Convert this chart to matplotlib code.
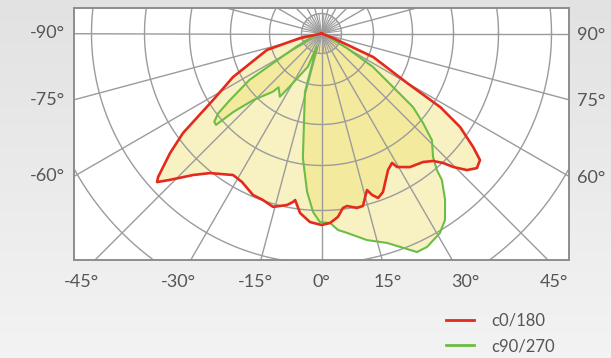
import numpy as np
import matplotlib
matplotlib.use("Agg")
import matplotlib.pyplot as plt

# ---------------- data (gamma angle in degrees, intensity in chart radius units) ----------
c0_angles = [-90, -78, -73.2, -63.8, -58.5, -54.3, -51.7, -48.7, -47.9, -46, -42.2, -38.6,
             -32, -28.2, -23, -19.4, -15.6, -11.4, -9.6, -9, -6.8, -3.5, 0, 2.6, 5.1, 7,
             8.4, 11.5, 13.5, 16.2, 17.4, 19, 21.2, 26, 28.6, 29.5, 33.5, 38.3, 41.2, 43.2,
             44.6, 46.8, 49.1, 51.4, 53.2, 56, 58.2, 59.9, 65.5, 68.6, 90]
c0_values = [0, 22, 57, 98.6, 127, 170.5, 193, 217.5, 221.6, 210.7, 191, 178.6,
             166.9, 168.4, 175.4, 176.5, 180, 175, 170.9, 168.6, 180.8, 188.9, 191.5, 189.7, 184.2, 175.8,
             174.4, 178, 177.4, 163, 169.2, 174, 170, 151.8, 147.4, 153.4, 160.2, 163.8, 169.4, 177.6,
             187.4, 199.5, 205.6, 202.8, 189.3, 167.1, 140, 100, 57, 12.3, 0]

c90_angles = [-90, -70, -62.4, -58.5, -57.2, -54, -52.3, -50.6, -49.1, -48.3, -45.7, -39.9,
              -38.6, -33.4, -31.8, -22.3, -20, -15.8, -8.5, -5.2, -2.7, -0.5, 2.6, 4.8, 7.3,
              12.4, 17.4, 23.6, 26.3, 30.7, 33.5, 36.6, 39.4, 40.2, 42.1, 46, 48.6, 51.2, 57,
              60, 70, 90]
c90_values = [0, 8, 28.5, 57, 85.8, 113, 130.5, 138.8, 139.6, 117.5, 95.3, 75.9,
              68.8, 75.7, 66.5, 35.9, 14, 60.8, 126, 159, 178.7, 188.5, 189.7, 197.2, 201,
              211.5, 219.5, 238.5, 238.1, 232, 223.7, 207.3, 189.7, 178.8, 166.4, 153.5, 135.3, 117.4, 61.4,
              30, 5, 0]

series_labels = ["c0/180", "c90/270"]
side_ticks = [90, 75, 60]
bottom_ticks = [-45, -30, -15, 0, 15, 30, 45]

# ---------------- styling ----------------
ring_radii = [20, 52, 91, 132, 177, 230, 282]
RED = "#e42a1d"
GREEN = "#6cbd45"
GRID = "#9b9b9b"
TXT = "#555555"
FILL = "#efe06e"
FONT = "Lato"

W, H = 611, 358
fig = plt.figure(figsize=(W / 100, H / 100), dpi=100)
fig.patch.set_facecolor("#ededed")

# background gradient
bg = fig.add_axes([0, 0, 1, 1], zorder=-10)
grad = np.linspace(0, 1, 100)[:, None] * np.ones((1, 10))
bg.imshow(grad, cmap=matplotlib.colors.LinearSegmentedColormap.from_list("g", ["#f3f3f3", "#e2e2e2"]),
          aspect="auto", extent=[0, 1, 0, 1], origin="lower")
bg.axis("off")

Lpx, Rpx, Tpx, Bpx = 74, 569, 8.3, 260
cx, cy = 321.5, 33.5
ax = fig.add_axes([Lpx / W, 1 - Bpx / H, (Rpx - Lpx) / W, (Bpx - Tpx) / H])
ax.set_xlim(Lpx - cx, Rpx - cx)
ax.set_ylim(-(Bpx - cy), cy - Tpx)
ax.set_facecolor("white")
ax.set_xticks([])
ax.set_yticks([])
for s in ax.spines.values():
    s.set_color("#8d8d8d")
    s.set_linewidth(1.4)


def to_xy(ang, val):
    a = np.radians(np.asarray(ang, float))
    v = np.asarray(val, float)
    return v * np.sin(a), -v * np.cos(a)


# grid rings
t = np.linspace(0, 2 * np.pi, 400)
for r in ring_radii:
    ax.plot(r * np.cos(t), r * np.sin(t), color=GRID, lw=1.0, zorder=2)
# spokes
big = 600
for a in np.arange(0, 360, 15):
    x, y = to_xy([a, a], [0, big])
    ax.plot(x, y, color=GRID, lw=1.0, zorder=2)
for a in np.arange(7.5, 360, 15):
    x, y = to_xy([a, a], [0, ring_radii[0]])
    ax.plot(x, y, color=GRID, lw=0.7, zorder=2)

# fills and curves
x0, y0 = to_xy(c0_angles, c0_values)
x1, y1 = to_xy(c90_angles, c90_values)
ax.fill(x0, y0, color=FILL, alpha=0.42, lw=0, zorder=1)
ax.fill(x1, y1, color=FILL, alpha=0.42, lw=0, zorder=1)
l1, = ax.plot(x1, y1, color=GREEN, lw=1.5, zorder=3, solid_joinstyle="round")
l0, = ax.plot(x0, y0, color=RED, lw=1.9, zorder=4, solid_joinstyle="round")

tkw = dict(ha="center", va="center", fontsize=13, color=TXT, family=FONT, clip_on=False)
# side tick labels
half_w = Rpx - cx
for a in side_ticks:
    yy = -half_w * np.tan(np.radians(90 - a))
    ax.text(-half_w - 27, yy, f"-{a}°", **tkw)
    ax.text(half_w + 22, yy - 1.5, f"{a}°", **tkw)

# bottom tick labels
depth = Bpx - cy + 22
for a in bottom_ticks:
    xx = np.clip(depth * np.tan(np.radians(a)), -240, 232)
    ax.text(xx, -depth, f"{a}°", **tkw)

leg = fig.legend([l0, l1], series_labels, loc="upper left", bbox_to_anchor=(441 / W, 1 - 308 / H),
                 frameon=False, handlelength=1.7, handletextpad=1.0, labelspacing=0.55,
                 borderaxespad=0, borderpad=0.3,
                 prop={"family": FONT, "size": 12})
for txt in leg.get_texts():
    txt.set_color(TXT)
for h in leg.legend_handles:
    h.set_linewidth(2.0)

fig.savefig("out.png", dpi=100, facecolor=fig.get_facecolor())
